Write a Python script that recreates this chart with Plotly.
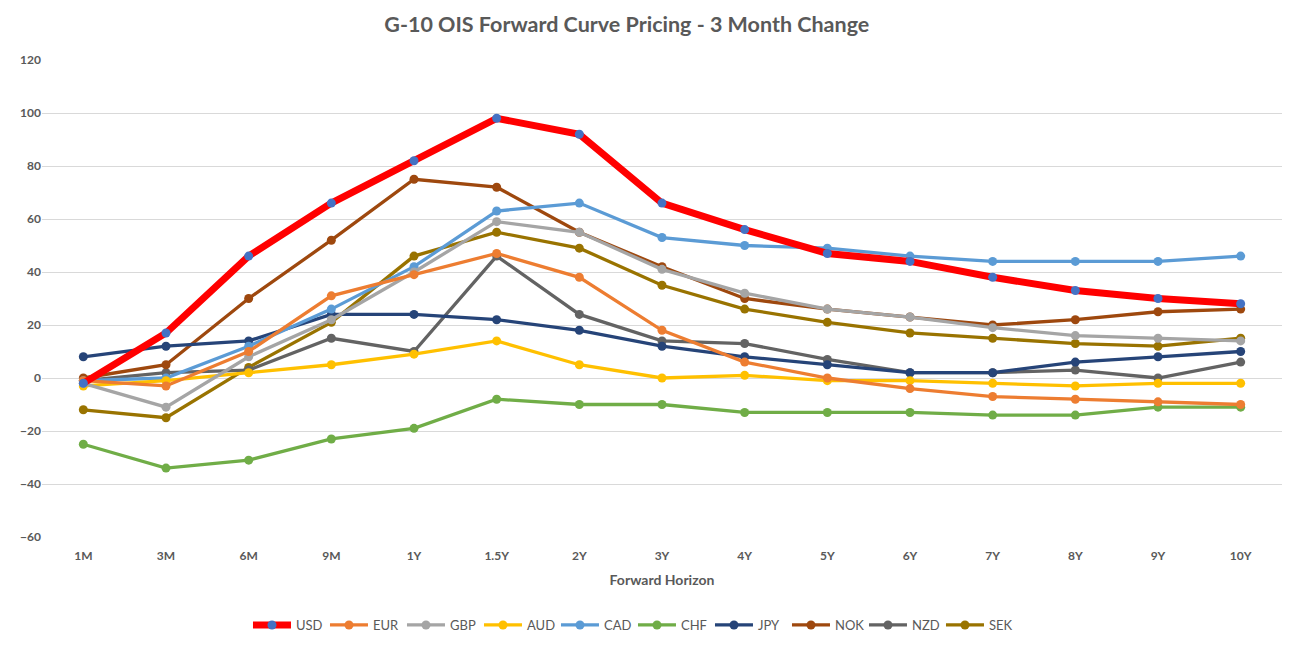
import plotly.graph_objects as go

horizons = ["1M", "3M", "6M", "9M", "1Y", "1.5Y", "2Y", "3Y", "4Y", "5Y", "6Y", "7Y", "8Y", "9Y", "10Y"]

usd = [-2, 17, 46, 66, 82, 98, 92, 66, 56, 47, 44, 38, 33, 30, 28]
eur = [-1, -3, 10, 31, 39, 47, 38, 18, 6, 0, -4, -7, -8, -9, -10]
gbp = [-2, -11, 8, 22, 40, 59, 55, 41, 32, 26, 23, 19, 16, 15, 14]
aud = [-3, -1, 2, 5, 9, 14, 5, 0, 1, -1, -1, -2, -3, -2, -2]
cad = [-1, 0, 12, 26, 42, 63, 66, 53, 50, 49, 46, 44, 44, 44, 46]
chf = [-25, -34, -31, -23, -19, -8, -10, -10, -13, -13, -13, -14, -14, -11, -11]
jpy = [8, 12, 14, 24, 24, 22, 18, 12, 8, 5, 2, 2, 6, 8, 10]
nok = [0, 5, 30, 52, 75, 72, 55, 42, 30, 26, 23, 20, 22, 25, 26]
nzd = [-1, 2, 3, 15, 10, 46, 24, 14, 13, 7, 2, 2, 3, 0, 6]
sek = [-12, -15, 4, 21, 46, 55, 49, 35, 26, 21, 17, 15, 13, 12, 15]

series = [
    ("USD", usd, "#FF0000", "#4472C4", 7),
    ("EUR", eur, "#ED7D31", "#ED7D31", 3.3),
    ("GBP", gbp, "#A5A5A5", "#A5A5A5", 3.3),
    ("AUD", aud, "#FFC000", "#FFC000", 3.3),
    ("CAD", cad, "#5B9BD5", "#5B9BD5", 3.3),
    ("CHF", chf, "#70AD47", "#70AD47", 3.3),
    ("JPY", jpy, "#264478", "#264478", 3.3),
    ("NOK", nok, "#9E480E", "#9E480E", 3.3),
    ("NZD", nzd, "#636363", "#636363", 3.3),
    ("SEK", sek, "#997300", "#997300", 3.3),
]

fig = go.Figure()
# draw in reverse so USD sits on top, but keep legend order
for name, vals, lc, mc, lw in reversed(series):
    fig.add_trace(go.Scatter(
        x=horizons, y=vals, name=name, mode="lines+markers",
        line=dict(color=lc, width=lw),
        marker=dict(color=mc, size=9),
    ))

font_fam = "Lato, 'Open Sans', sans-serif"
fig.update_layout(
    width=1300, height=650,
    paper_bgcolor="white", plot_bgcolor="white",
    margin=dict(l=34, r=26, t=52, b=121, autoexpand=False),
    title=dict(text="<b>G-10 OIS Forward Curve Pricing - 3 Month Change</b>",
               x=0.476, xanchor="center", y=0.974, yanchor="middle",
               font=dict(family=font_fam, size=21.5, color="#595959")),
    showlegend=True,
    legend=dict(orientation="h", x=0.4766, xanchor="center", y=-0.1845, yanchor="middle",
                traceorder="reversed",
                font=dict(family=font_fam, size=13, color="#595959"),
                itemwidth=38, entrywidth=24, entrywidthmode="pixels"),
    xaxis=dict(
        type="category", categoryorder="array", categoryarray=horizons,
        range=[-0.5, 14.5],
        showgrid=False, showline=False, zeroline=False, automargin=False,
        ticks="", ticklabelstandoff=10,
        tickfont=dict(family=font_fam, size=12, color="#595959"),
        title=dict(text="<b>Forward Horizon</b>", standoff=13,
                   font=dict(family=font_fam, size=14, color="#595959")),
    ),
    yaxis=dict(
        range=[-60, 120], dtick=20, tick0=0, automargin=False,
        showgrid=True, gridcolor="#D9D9D9", gridwidth=1,
        zeroline=True, zerolinecolor="#D9D9D9", zerolinewidth=1,
        showline=False, ticks="",
        tickfont=dict(family=font_fam, size=12, color="#595959"),
    ),
)
fig.update_xaxes(tickprefix="<b>", ticksuffix="</b>")
fig.update_yaxes(tickprefix="<b>", ticksuffix="</b>")

fig.write_html("out.html")
